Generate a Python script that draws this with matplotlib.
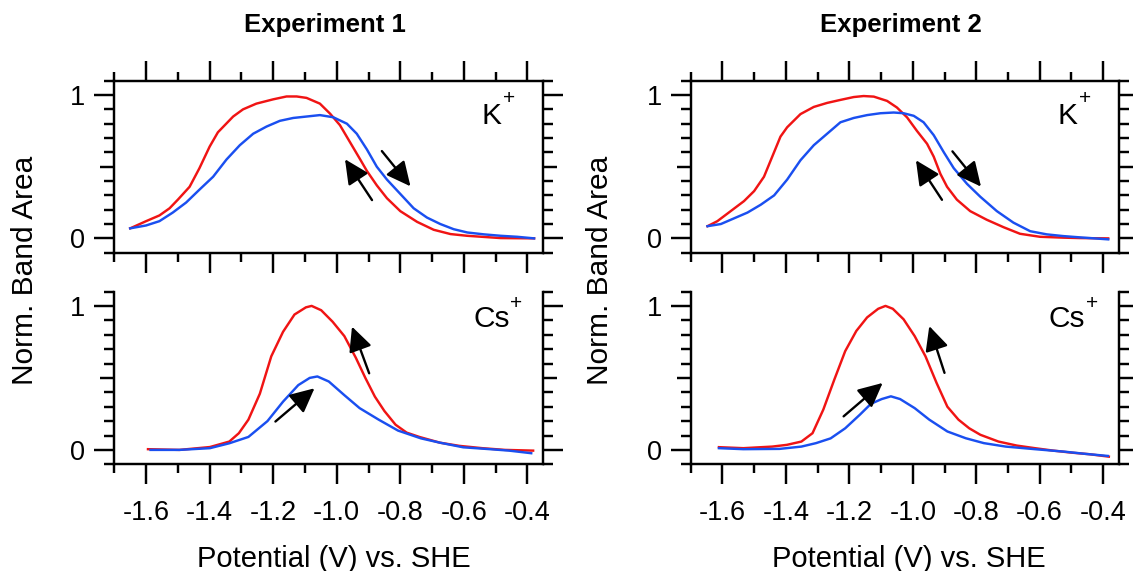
import matplotlib
matplotlib.use("Agg")
import matplotlib.pyplot as plt
import numpy as np

plt.rcParams['font.family'] = ['Liberation Sans', 'DejaVu Sans']

# ---------------- data ----------------
titles = ["Experiment 1", "Experiment 2"]
ions = ["K", "Cs"]
xlabel = "Potential (V) vs. SHE"
ylabel = "Norm. Band Area"
xticks_major = [-1.6, -1.4, -1.2, -1.0, -0.8, -0.6, -0.4]
xtick_labels = ["-1.6", "-1.4", "-1.2", "-1.0", "-0.8", "-0.6", "-0.4"]

# Experiment 1, K+
e1k_red_x = [-1.650, -1.600, -1.558, -1.526, -1.500, -1.463, -1.432, -1.400, -1.374, -1.326,
             -1.295, -1.253, -1.200, -1.158, -1.126, -1.095, -1.053, -1.021, -0.990, -0.958,
             -0.926, -0.905, -0.874, -0.842, -0.800, -0.747, -0.695, -0.642, -0.590, -0.484, -0.379]
e1k_red_y = [0.07, 0.12, 0.16, 0.21, 0.27, 0.36, 0.49, 0.64, 0.74, 0.85,
             0.90, 0.94, 0.97, 0.99, 0.99, 0.98, 0.94, 0.87, 0.79, 0.67,
             0.55, 0.47, 0.37, 0.28, 0.19, 0.115, 0.06, 0.03, 0.018, 0.002, 0.0]
e1k_blue_x = [-1.650, -1.600, -1.558, -1.516, -1.474, -1.432, -1.389, -1.347, -1.305, -1.263,
              -1.221, -1.179, -1.137, -1.095, -1.053, -1.011, -0.968, -0.937, -0.905, -0.874,
              -0.842, -0.800, -0.758, -0.716, -0.674, -0.632, -0.589, -0.537, -0.484, -0.432, -0.379]
e1k_blue_y = [0.07, 0.09, 0.12, 0.18, 0.25, 0.34, 0.43, 0.55, 0.65, 0.73,
              0.78, 0.82, 0.84, 0.85, 0.86, 0.845, 0.80, 0.73, 0.62, 0.50,
              0.41, 0.31, 0.21, 0.145, 0.10, 0.064, 0.041, 0.028, 0.018, 0.011, 0.0]

# Experiment 1, Cs+
e1c_red_x = [-1.594, -1.495, -1.399, -1.338, -1.308, -1.278, -1.242, -1.206, -1.169, -1.133,
             -1.097, -1.079, -1.049, -1.013, -0.976, -0.940, -0.910, -0.880, -0.850, -0.815,
             -0.780, -0.740, -0.675, -0.614, -0.542, -0.470, -0.382]
e1c_red_y = [0.005, 0.0, 0.02, 0.058, 0.116, 0.21, 0.39, 0.65, 0.82, 0.94,
             0.99, 1.0, 0.97, 0.89, 0.79, 0.64, 0.50, 0.37, 0.27, 0.175,
             0.12, 0.09, 0.05, 0.028, 0.012, 0.0, -0.005]
e1c_blue_x = [-1.586, -1.495, -1.399, -1.338, -1.278, -1.218, -1.169, -1.121, -1.085, -1.061,
              -1.025, -0.976, -0.928, -0.868, -0.807, -0.735, -0.675, -0.602, -0.518, -0.458, -0.388]
e1c_blue_y = [0.0, 0.0, 0.012, 0.046, 0.09, 0.20, 0.335, 0.45, 0.50, 0.51,
              0.475, 0.38, 0.29, 0.21, 0.134, 0.08, 0.05, 0.018, 0.005, -0.005, -0.023]

# Experiment 2, K+
e2k_red_x = [-1.647, -1.616, -1.574, -1.532, -1.500, -1.469, -1.443, -1.417, -1.396, -1.354,
             -1.312, -1.270, -1.228, -1.186, -1.155, -1.123, -1.081, -1.050, -1.018, -0.987,
             -0.955, -0.934, -0.913, -0.892, -0.861, -0.819, -0.767, -0.714, -0.662, -0.599,
             -0.526, -0.473, -0.384]
e2k_red_y = [0.085, 0.12, 0.19, 0.26, 0.33, 0.43, 0.57, 0.71, 0.775, 0.867,
             0.917, 0.945, 0.966, 0.986, 0.993, 0.989, 0.959, 0.913, 0.844, 0.75,
             0.66, 0.57, 0.45, 0.36, 0.27, 0.19, 0.13, 0.078, 0.032, 0.011,
             0.005, 0.002, 0.0]
e2k_blue_x = [-1.647, -1.605, -1.563, -1.521, -1.479, -1.437, -1.396, -1.354, -1.312, -1.270,
              -1.228, -1.186, -1.144, -1.102, -1.060, -1.029, -0.997, -0.966, -0.934, -0.902,
              -0.871, -0.829, -0.787, -0.735, -0.683, -0.630, -0.578, -0.526, -0.473, -0.384]
e2k_blue_y = [0.085, 0.10, 0.14, 0.18, 0.235, 0.30, 0.41, 0.545, 0.65, 0.73,
              0.81, 0.84, 0.86, 0.873, 0.878, 0.873, 0.855, 0.81, 0.72, 0.60,
              0.49, 0.38, 0.29, 0.19, 0.11, 0.05, 0.028, 0.016, 0.007, -0.007]

# Experiment 2, Cs+
e2c_red_x = [-1.611, -1.534, -1.443, -1.397, -1.351, -1.316, -1.282, -1.247, -1.213, -1.178,
             -1.144, -1.109, -1.086, -1.063, -1.029, -0.994, -0.960, -0.925, -0.891, -0.856,
             -0.822, -0.787, -0.730, -0.672, -0.615, -0.557, -0.500, -0.443, -0.382]
e2c_red_y = [0.019, 0.012, 0.023, 0.035, 0.058, 0.116, 0.28, 0.49, 0.686, 0.826,
             0.92, 0.98, 1.0, 0.98, 0.907, 0.79, 0.65, 0.465, 0.30, 0.21,
             0.15, 0.105, 0.058, 0.03, 0.012, -0.005, -0.019, -0.03, -0.047]
e2c_blue_x = [-1.611, -1.534, -1.420, -1.351, -1.305, -1.259, -1.213, -1.167, -1.132, -1.098,
              -1.069, -1.040, -0.994, -0.948, -0.891, -0.833, -0.776, -0.707, -0.615, -0.523,
              -0.454, -0.385]
e2c_blue_y = [0.012, 0.005, 0.007, 0.023, 0.047, 0.08, 0.15, 0.244, 0.32, 0.353,
              0.372, 0.353, 0.29, 0.21, 0.128, 0.081, 0.047, 0.023, 0.005, -0.012,
              -0.028, -0.042]

# arrows: (tail_x, tail_y, tip_x, tip_y)
e1k_arrows = [(-0.889, 0.267, -0.974, 0.552), (-0.858, 0.609, -0.768, 0.363)]
e2k_arrows = [(-0.908, 0.269, -0.990, 0.545), (-0.875, 0.607, -0.785, 0.361)]
e1c_arrows = [(-1.193, 0.197, -1.070, 0.428), (-0.898, 0.532, -0.952, 0.856)]
e2c_arrows = [(-1.218, 0.233, -1.095, 0.465), (-0.900, 0.535, -0.948, 0.860)]

panels = [
    [(e1k_red_x, e1k_red_y, e1k_blue_x, e1k_blue_y, e1k_arrows),
     (e1c_red_x, e1c_red_y, e1c_blue_x, e1c_blue_y, e1c_arrows)],
    [(e2k_red_x, e2k_red_y, e2k_blue_x, e2k_blue_y, e2k_arrows),
     (e2c_red_x, e2c_red_y, e2c_blue_x, e2c_blue_y, e2c_arrows)],
]

RED = '#f01414'
BLUE = '#1a4ff0'

W, H = 1133, 571
fig = plt.figure(figsize=(W / 100, H / 100), dpi=100)

col_left = [114.3, 690.7]
col_right = [543.3, 1119.0]
row_top = [80.7, 291.5]
row_bot = [252.7, 464.3]
xlabel_center = [333.5, 909.0]

LW_AX = 1.75
for c in range(2):
    for r in range(2):
        x0 = col_left[c] / W
        w = (col_right[c] - col_left[c]) / W
        y0 = 1 - row_bot[r] / H
        h = (row_bot[r] - row_top[r]) / H
        ax = fig.add_axes([x0, y0, w, h])
        rx, ry, bx, by, arrows = panels[c][r]
        ax.plot(rx, ry, color=RED, lw=1.75, zorder=3)
        ax.plot(bx, by, color=BLUE, lw=1.75, zorder=4)
        for (tx, ty, hx, hy) in arrows:
            ax.annotate('', xy=(hx, hy), xytext=(tx, ty),
                        arrowprops=dict(arrowstyle='-|>,head_length=0.62,head_width=0.3',
                                        color='black', lw=1.7, mutation_scale=24,
                                        shrinkA=0, shrinkB=0), zorder=5)
        ax.set_xlim(-1.7, -0.35)
        ax.set_ylim(-0.1, 1.1)
        for s in ax.spines.values():
            s.set_linewidth(LW_AX)
        ax.set_xticks(xticks_major)
        ax.set_xticks([-1.7, -1.5, -1.3, -1.1, -0.9, -0.7, -0.5], minor=True)
        ax.set_yticks([0, 0.5, 1], labels=['0', '', '1'])
        ax.set_yticks([-0.1, 0.1, 0.2, 0.3, 0.4, 0.6, 0.7, 0.8, 0.9, 1.1], minor=True)
        ax.tick_params(axis='y', which='major', direction='out', length=14.4, width=LW_AX,
                       left=True, right=True, labelsize=19.5, pad=6.5)
        ax.tick_params(axis='y', which='minor', direction='out', length=7.2, width=LW_AX,
                       left=True, right=True)
        if r == 0:
            ax.tick_params(axis='x', which='both', top=True, bottom=True, labelbottom=False)
        else:
            ax.spines['top'].set_visible(False)
            ax.tick_params(axis='x', which='both', top=False, bottom=True)
            ax.set_xticks(xticks_major, labels=xtick_labels)
            ax.text((xlabel_center[c] - col_left[c]) / (col_right[c] - col_left[c]),
                    (row_bot[r] - 567.0) / (row_bot[r] - row_top[r]),
                    xlabel, transform=ax.transAxes, ha='center', va='baseline', fontsize=21)
        ax.tick_params(axis='x', which='major', direction='out', length=14.4, width=LW_AX,
                       labelsize=19.5, pad=11)
        ax.tick_params(axis='x', which='minor', direction='out', length=6.8, width=LW_AX)
        # medium-length tick at 0.5
        for t in ax.yaxis.get_major_ticks():
            if abs(t.get_loc() - 0.5) < 1e-9:
                t.tick1line.set_markersize(10)
                t.tick2line.set_markersize(10)
        # ion label
        if r == 0:
            ax.text(-0.543, 0.80, ions[r], fontsize=21.5, ha='left', va='baseline')
            ax.text(-0.457, 0.975, '+', fontsize=15, ha='center', va='center')
        else:
            ax.text(-0.571, 0.855, ions[r], fontsize=21.5, ha='left', va='baseline')
            ax.text(-0.435, 1.017, '+', fontsize=15, ha='center', va='center')
        if r == 0:
            ax.text(0.49, (row_bot[r] - 32.3) / (row_bot[r] - row_top[r]), titles[c],
                    transform=ax.transAxes, ha='center', va='baseline',
                    fontsize=18.5, fontweight='bold')

for xc in [25.0, 600.0]:
    fig.text(xc / W, 1 - 270.0 / H, ylabel, rotation=90, ha='center', va='center', fontsize=21.5)

fig.savefig('out.png', dpi=100)
